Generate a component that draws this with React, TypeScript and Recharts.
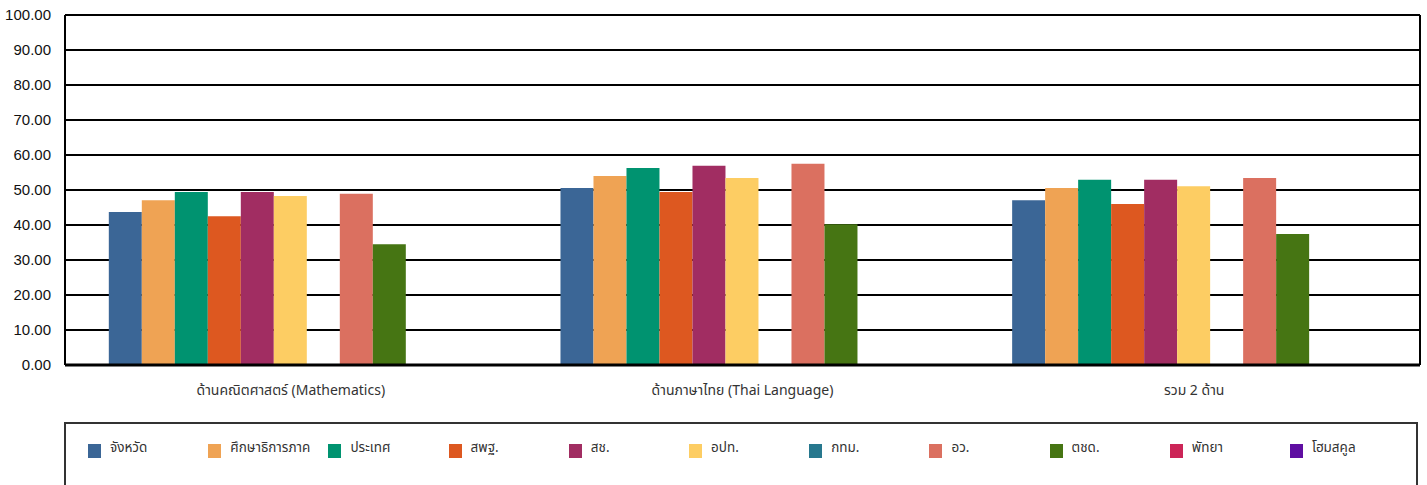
import { Bar, BarChart, CartesianGrid, XAxis, YAxis } from "recharts";

const categories = ["ด้านคณิตศาสตร์ (Mathematics)", "ด้านภาษาไทย (Thai Language)", "รวม 2 ด้าน"];

const seriesNames = [
  "จังหวัด",
  "ศึกษาธิการภาค",
  "ประเทศ",
  "สพฐ.",
  "สช.",
  "อปท.",
  "กทม.",
  "อว.",
  "ตชด.",
  "พัทยา",
  "โฮมสคูล",
];

const seriesColors = [
  "#3B6696",
  "#EFA354",
  "#009370",
  "#DD5820",
  "#A12D62",
  "#FDCD63",
  "#27788E",
  "#DB7060",
  "#467513",
  "#CC2557",
  "#5F0EA2",
];

// one array per series, values per category (null = no data)
const changwat = [43.7, 50.6, 47.1];
const regionEdu = [47.1, 54.0, 50.6];
const country = [49.4, 56.3, 52.9];
const obec = [42.5, 49.4, 46.0];
const opec = [49.4, 56.9, 52.9];
const lao = [48.3, 53.4, 51.1];
const bma = [null, null, null];
const mhesi = [48.9, 57.5, 53.4];
const bpp = [34.5, 40.2, 37.4];
const pattaya = [null, null, null];
const homeschool = [null, null, null];

const seriesValues = [changwat, regionEdu, country, obec, opec, lao, bma, mhesi, bpp, pattaya, homeschool];

const yTicks = [0, 10, 20, 30, 40, 50, 60, 70, 80, 90, 100];

const data = categories.map((name, i) => {
  const row: Record<string, string | number | null> = { name };
  seriesNames.forEach((s, j) => {
    row[s] = seriesValues[j][i];
  });
  return row;
});

const thaiFont = "'Noto Sans', 'Noto Sans Thai', 'DejaVu Sans', sans-serif";

export default function App() {
  return (
    <div
      style={{
        position: "absolute",
        left: 0,
        top: 0,
        width: 1427,
        height: 485,
        overflow: "hidden",
        background: "#fff",
      }}
    >
      <BarChart
        width={1427}
        height={485}
        data={data}
        margin={{ top: 15, right: 5, left: 0, bottom: 0 }}
        barCategoryGap="9.7%"
        barGap={0}
      >
        <CartesianGrid yAxisId="left" vertical={false} stroke="#000" strokeWidth={2} />
        <XAxis
          dataKey="name"
          height={120}
          tickLine={false}
          axisLine={{ stroke: "#000", strokeWidth: 3 }}
          tick={{ fill: "#333", fontSize: 14, fontFamily: thaiFont }}
          tickMargin={14}
        />
        <YAxis
          yAxisId="left"
          domain={[0, 100]}
          ticks={yTicks}
          interval={0}
          width={65}
          tickLine={false}
          axisLine={{ stroke: "#000", strokeWidth: 2 }}
          tickFormatter={(v: number) => v.toFixed(2)}
          tick={{ fill: "#111", fontSize: 15, fontFamily: "'Liberation Sans', Arial, sans-serif" }}
          tickMargin={8}
        />
        <YAxis
          yAxisId="right"
          orientation="right"
          domain={[0, 100]}
          width={2}
          tick={false}
          tickLine={false}
          axisLine={{ stroke: "#000", strokeWidth: 2 }}
        />
        {seriesNames.map((s, j) => (
          <Bar key={s} yAxisId="left" dataKey={s} fill={seriesColors[j]} isAnimationActive={false} />
        ))}
      </BarChart>
      <div
        style={{
          position: "absolute",
          left: 64,
          top: 422,
          width: 1354,
          height: 80,
          border: "2px solid #333",
          boxSizing: "border-box",
          fontFamily: thaiFont,
          fontSize: 13.5,
          color: "#333",
        }}
      >
        {seriesNames.map((s, j) => (
          <div
            key={s}
            style={{
              position: "absolute",
              left: 22 + j * 120.2,
              top: 20,
              display: "flex",
              alignItems: "center",
              whiteSpace: "nowrap",
            }}
          >
            <span
              style={{
                display: "inline-block",
                width: 13,
                height: 14,
                background: seriesColors[j],
                marginRight: 9,
              }}
            />
            <span style={{ marginTop: -6 }}>{s}</span>
          </div>
        ))}
      </div>
    </div>
  );
}
